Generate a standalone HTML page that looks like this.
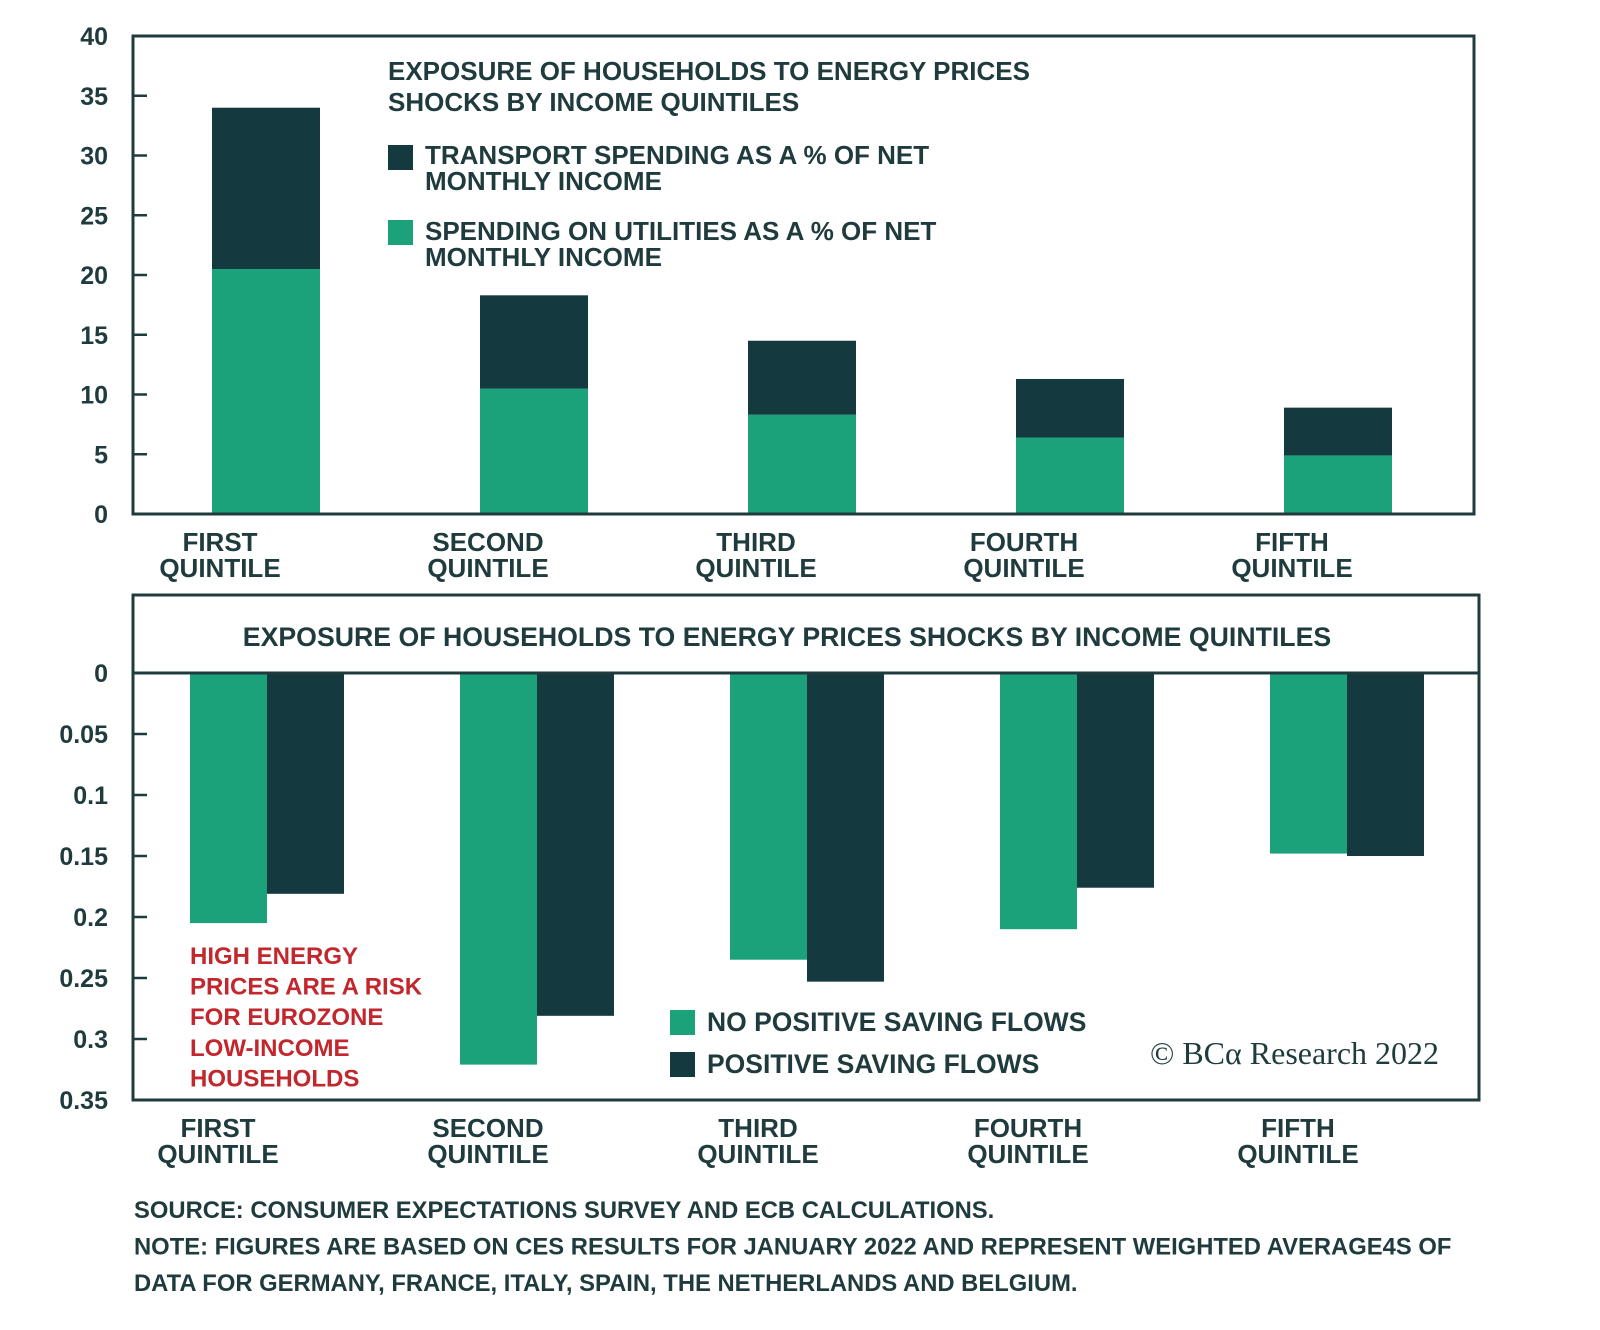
<!DOCTYPE html>
<html><head><meta charset="utf-8">
<style>
html,body{margin:0;padding:0;background:#fff;}
svg{display:block;}
text{font-family:"Liberation Sans",sans-serif;font-weight:bold;fill:#1f3b3d;}
</style></head>
<body>
<svg id="chart" width="1600" height="1330" viewBox="0 0 1600 1330" xmlns="http://www.w3.org/2000/svg">
  <g id="topChart"></g>
  <g id="botChart"></g>
</svg>
<script>
const categories = ["FIRST", "SECOND", "THIRD", "FOURTH", "FIFTH"];
const utilities = [20.5, 10.5, 8.3, 6.4, 4.9];
const transportTotal = [34, 18.3, 14.5, 11.3, 8.9];
const topTicks = [0, 5, 10, 15, 20, 25, 30, 35, 40];
const noSaving = [0.205, 0.321, 0.235, 0.210, 0.148];
const posSaving = [0.181, 0.281, 0.253, 0.176, 0.150];
const botTicks = [0, 0.05, 0.1, 0.15, 0.2, 0.25, 0.3, 0.35];

const GREEN = "#1ba27a", DARK = "#143a40", INK = "#1f3b3d";
const NS = "http://www.w3.org/2000/svg";
function mk(parent, tag, attrs, txt) {
  const e = document.createElementNS(NS, tag);
  for (const k in attrs) e.setAttribute(k, attrs[k]);
  if (txt !== undefined) e.textContent = txt;
  parent.appendChild(e);
  return e;
}
const topG = document.getElementById('topChart');
const botG = document.getElementById('botChart');

// ---------- TOP CHART ----------
const tL = 133, tR = 1474, tT = 36, tB = 514;
const yTop = v => tB - (v / 40) * (tB - tT);
const xTopCenter = i => 266 + i * 268;
const bwTop = 108;
topTicks.forEach(v => {
  const t = mk(topG, 'line', {x1: tL, x2: tL + 14, y1: yTop(v), y2: yTop(v), stroke: INK, 'stroke-width': 2.5});
  
  
  const l = mk(topG, 'text', {x: 108, y: yTop(v) + 9, 'text-anchor': 'end', 'font-size': 25}, String(v));
  
  
});
categories.forEach((c, i) => {
  const x = xTopCenter(i) - bwTop / 2;
  const d = mk(topG, 'rect', {x: x, y: yTop(transportTotal[i]), width: bwTop, height: yTop(utilities[i]) - yTop(transportTotal[i]), fill: DARK});
  
  
  const g = mk(topG, 'rect', {x: x, y: yTop(utilities[i]), width: bwTop, height: tB - yTop(utilities[i]), fill: GREEN});
  
  
  const cx = xTopCenter(i) - 46;
  const l1 = mk(topG, 'text', {x: cx, y: 551, 'text-anchor': 'middle', 'font-size': 26}, c);
  
  
  const l2 = mk(topG, 'text', {x: cx, y: 577, 'text-anchor': 'middle', 'font-size': 26}, 'QUINTILE');
  
  
});
const tf = mk(topG, 'rect', {x: tL, y: tT, width: tR - tL, height: tB - tT, fill: 'none', stroke: INK, 'stroke-width': 3});


const tt1 = mk(topG, 'text', {x: 388, y: 80, 'font-size': 26}, 'EXPOSURE OF HOUSEHOLDS TO ENERGY PRICES');


const tt2 = mk(topG, 'text', {x: 388, y: 111, 'font-size': 26}, 'SHOCKS BY INCOME QUINTILES');


const ls1 = mk(topG, 'rect', {x: 388, y: 145, width: 25, height: 25, fill: DARK});


const lt1 = mk(topG, 'text', {x: 425, y: 164, 'font-size': 26}, 'TRANSPORT SPENDING AS A % OF NET');


const lt1b = mk(topG, 'text', {x: 425, y: 190, 'font-size': 26}, 'MONTHLY INCOME');


const ls2 = mk(topG, 'rect', {x: 388, y: 220, width: 25, height: 25, fill: GREEN});


const lt2 = mk(topG, 'text', {x: 425, y: 240, 'font-size': 26}, 'SPENDING ON UTILITIES AS A % OF NET');


const lt2b = mk(topG, 'text', {x: 425, y: 266, 'font-size': 26}, 'MONTHLY INCOME');



// ---------- BOTTOM CHART ----------
const bL = 133, bR = 1479, bT = 595, bZ = 673, bB = 1100;
const yBot = v => bZ + (v / 0.35) * (bB - bZ);
const xGroup = i => 190 + i * 270;
const bw = 77;
botTicks.forEach(v => {
  const t = mk(botG, 'line', {x1: bL, x2: bL + 14, y1: yBot(v), y2: yBot(v), stroke: INK, 'stroke-width': 2.5});
  
  
  const l = mk(botG, 'text', {x: 108, y: yBot(v) + 9, 'text-anchor': 'end', 'font-size': 25}, String(v));
  
  
});
categories.forEach((c, i) => {
  const g = mk(botG, 'rect', {x: xGroup(i), y: bZ, width: bw, height: yBot(noSaving[i]) - bZ, fill: GREEN});
  
  
  const d = mk(botG, 'rect', {x: xGroup(i) + bw, y: bZ, width: bw, height: yBot(posSaving[i]) - bZ, fill: DARK});
  
  
  const cx = 218 + i * 270;
  const l1 = mk(botG, 'text', {x: cx, y: 1137, 'text-anchor': 'middle', 'font-size': 26}, c);
  
  
  const l2 = mk(botG, 'text', {x: cx, y: 1163, 'text-anchor': 'middle', 'font-size': 26}, 'QUINTILE');
  
  
});
const zl = mk(botG, 'line', {x1: bL, x2: bR, y1: bZ, y2: bZ, stroke: INK, 'stroke-width': 3});


const bf = mk(botG, 'rect', {x: bL, y: bT, width: bR - bL, height: bB - bT, fill: 'none', stroke: INK, 'stroke-width': 3});


const bt = mk(botG, 'text', {x: 787, y: 646, 'text-anchor': 'middle', 'font-size': 26.7}, 'EXPOSURE OF HOUSEHOLDS TO ENERGY PRICES  SHOCKS BY INCOME QUINTILES');


["HIGH ENERGY", "PRICES ARE A RISK", "FOR EUROZONE", "LOW-INCOME", "HOUSEHOLDS"].forEach((s, k) => {
  const r = mk(botG, 'text', {x: 190, y: 964 + k * 30.6, 'font-size': 24, style: 'fill:#c1272d'}, s);
  
  
});
const bs1 = mk(botG, 'rect', {x: 670, y: 1010, width: 25, height: 25, fill: GREEN});


const bl1 = mk(botG, 'text', {x: 707, y: 1031, 'font-size': 26.5}, 'NO POSITIVE SAVING FLOWS');


const bs2 = mk(botG, 'rect', {x: 670, y: 1052, width: 25, height: 25, fill: DARK});


const bl2 = mk(botG, 'text', {x: 707, y: 1073, 'font-size': 26.5}, 'POSITIVE SAVING FLOWS');


const cr = mk(botG, 'text', {x: 1150, y: 1064, 'font-size': 32, style: 'font-family:"Liberation Serif",serif;font-weight:normal'}, '© BCα Research 2022');



["SOURCE: CONSUMER EXPECTATIONS SURVEY AND ECB CALCULATIONS.",
 "NOTE: FIGURES ARE BASED ON CES RESULTS FOR JANUARY 2022 AND REPRESENT WEIGHTED AVERAGE4S OF",
 "DATA FOR GERMANY, FRANCE, ITALY, SPAIN, THE NETHERLANDS AND BELGIUM."].forEach((s, k) => {
  const f = mk(botG, 'text', {x: 134, y: 1218 + k * 36.5, 'font-size': 23.8}, s);
  
  
});
</script>
</body></html>
